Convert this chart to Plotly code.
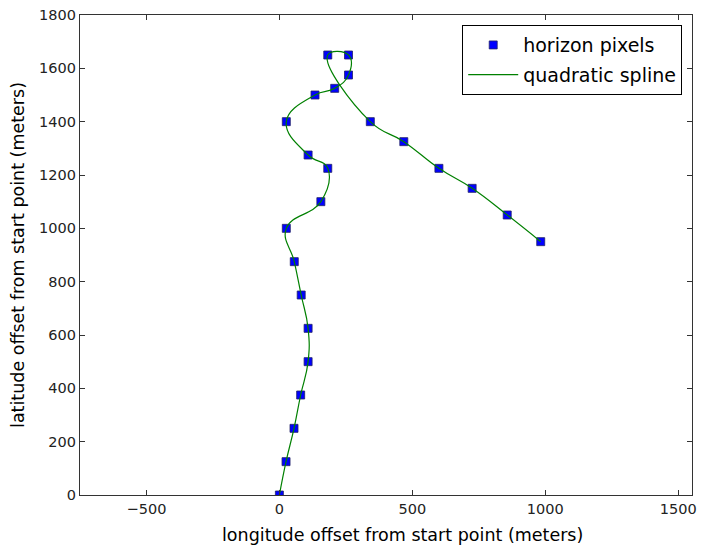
import plotly.graph_objects as go

lon = [0, 25, 55, 80, 108, 108, 82, 56, 26, 156, 182, 108, 26, 134, 208, 260, 260, 182,
       342, 468, 600, 725, 857, 983]
lat = [0, 125, 250, 375, 500, 625, 750, 875, 1000, 1100, 1225, 1275, 1400, 1500, 1525, 1575,
       1650, 1650, 1400, 1325, 1225, 1150, 1050, 950]

x_ticks = [-500, 0, 500, 1000, 1500]
y_ticks = [0, 200, 400, 600, 800, 1000, 1200, 1400, 1600, 1800]

font = "DejaVu Sans"
fig = go.Figure()
fig.add_trace(go.Scatter(
    x=lon, y=lat, mode="markers", name="horizon pixels", legendgroup="a",
    marker=dict(symbol="square", size=8, color="#0000ff",
                line=dict(color="#222266", width=0.8)),
))
fig.add_trace(go.Scatter(
    x=lon, y=lat, mode="lines", name="quadratic spline", legendgroup="b",
    line=dict(color="#008000", width=1.2, shape="spline", smoothing=1.3),
))

axis_common = dict(
    showline=True, linecolor="#333333", linewidth=1.3, mirror="ticks",
    ticks="inside", ticklen=5, tickcolor="#333333", tickwidth=1,
    showgrid=False, zeroline=False, ticklabeloverflow="allow",
    tickfont=dict(family=font, size=14.5, color="#222222"),
)
fig.update_xaxes(range=[-750, 1552], tickvals=x_ticks,
                 ticktext=["\u2212500", "0", "500", "1000", "1500"],
                 **axis_common)
fig.update_yaxes(range=[0, 1800], tickvals=y_ticks,
                 title=dict(text="latitude offset from start point (meters)",
                            font=dict(family=font, size=17.5, color="black"), standoff=9),
                 **axis_common)

fig.add_annotation(text="longitude offset from start point (meters)",
                   xref="paper", yref="paper", x=0.527, y=-0.083,
                   xanchor="center", yanchor="middle", showarrow=False,
                   font=dict(family=font, size=17.5, color="black"))

fig.update_layout(
    width=701, height=549,
    margin=dict(l=80, r=4, t=15, b=54),
    plot_bgcolor="white", paper_bgcolor="white",
    legend=dict(x=0.984, y=0.979, xanchor="right", yanchor="top",
                bordercolor="black", borderwidth=1, bgcolor="white",
                font=dict(family=font, size=19, color="black"),
                itemwidth=50, tracegroupgap=2, traceorder="grouped"),
)
fig.write_html("out.html")
